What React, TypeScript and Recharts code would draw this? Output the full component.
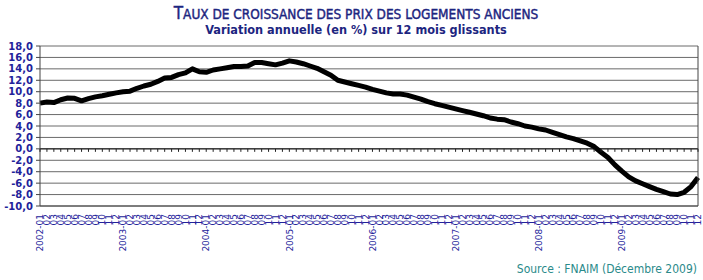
import React from 'react';
import { LineChart, Line, XAxis, YAxis, CartesianGrid, ReferenceLine } from 'recharts';

const years = ['2002', '2003', '2004', '2005', '2006', '2007', '2008', '2009'];
const months = ['01', '02', '03', '04', '05', '06', '07', '08', '09', '10', '11', '12'];

const v2002 = [8.0, 8.2, 8.1, 8.6, 8.9, 8.85, 8.4, 8.8, 9.1, 9.3, 9.55, 9.8];
const v2003 = [10.0, 10.1, 10.6, 11.0, 11.3, 11.8, 12.4, 12.5, 13.0, 13.3, 14.0, 13.5];
const v2004 = [13.4, 13.8, 14.0, 14.2, 14.4, 14.4, 14.5, 15.1, 15.1, 14.9, 14.7, 15.0];
const v2005 = [15.4, 15.2, 14.9, 14.5, 14.1, 13.5, 12.9, 12.0, 11.7, 11.4, 11.1, 10.8];
const v2006 = [10.4, 10.1, 9.8, 9.6, 9.6, 9.4, 9.05, 8.7, 8.25, 7.9, 7.6, 7.3];
const v2007 = [7.0, 6.7, 6.4, 6.1, 5.8, 5.4, 5.2, 5.1, 4.7, 4.4, 4.0, 3.8];
const v2008 = [3.5, 3.3, 2.9, 2.5, 2.1, 1.8, 1.4, 1.0, 0.4, -0.6, -1.5, -2.8];
const v2009 = [-3.9, -4.9, -5.6, -6.1, -6.6, -7.1, -7.5, -7.9, -8.0, -7.6, -6.6, -5.0];

const yearValues = [v2002, v2003, v2004, v2005, v2006, v2007, v2008, v2009];
const yTicks = [-10, -8, -6, -4, -2, 0, 2, 4, 6, 8, 10, 12, 14, 16, 18];

const data = years.flatMap((y, yi) =>
  months.map((m, mi) => ({ key: `${y}-${m}`, value: yearValues[yi][mi], zero: 0 }))
);

const NAVY = '#22229a';

const MonthTick = (props: any) => {
  const { x, y, payload } = props;
  const k: string = payload.value;
  const t = k.endsWith('-01') ? k : k.slice(5);
  return (
    <g transform={`translate(${x},${y})`}>
      <text
        transform="rotate(-90)"
        x={0}
        y={0}
        dy="0.35em"
        textAnchor="end"
        fill={NAVY}
        fontSize={9}
        fontFamily="DejaVu Sans"
      >
        {t}
      </text>
    </g>
  );
};

const ZeroTick = (props: any) => {
  const { cx, cy, index } = props;
  return <line key={`zt-${index}`} x1={cx} x2={cx} y1={cy} y2={cy + 3} stroke="#222" strokeWidth={1} />;
};

export default function App() {
  return (
    <div style={{ position: 'absolute', left: 0, top: 0, width: 703, height: 280, background: '#fff' }}>
      <div
        style={{
          position: 'absolute',
          left: 0,
          width: 712,
          top: 5,
          textAlign: 'center',
          color: '#1c2580',
          fontFamily: 'DejaVu Sans Condensed',
          fontSize: 13.5,
          lineHeight: '16px',
          whiteSpace: 'nowrap',
          WebkitTextStroke: '0.4px #1c2580',
        }}
      >
        <span style={{ fontSize: 17 }}>T</span>AUX DE CROISSANCE DES PRIX DES LOGEMENTS ANCIENS
      </div>
      <div
        style={{
          position: 'absolute',
          left: 0,
          width: 712,
          top: 22,
          textAlign: 'center',
          color: '#1c2580',
          fontFamily: 'DejaVu Sans Condensed',
          fontWeight: 'bold',
          fontSize: 12.6,
          lineHeight: '16px',
          whiteSpace: 'nowrap',
        }}
      >
        Variation annuelle (en %) sur 12 mois glissants
      </div>
      <LineChart width={703} height={280} data={data} margin={{ top: 46, right: 4, bottom: 14, left: 0 }}>
        <CartesianGrid vertical={false} stroke="#6a6a6a" strokeWidth={1} />
        <XAxis
          dataKey="key"
          interval={0}
          tick={<MonthTick />}
          tickLine={false}
          axisLine={{ stroke: '#444' }}
          height={60}
          tickMargin={2}
        />
        <YAxis
          domain={[-10, 18]}
          ticks={yTicks}
          interval={0}
          width={40}
          tickSize={4}
          tickMargin={3}
          tickLine={{ stroke: '#444' }}
          axisLine={{ stroke: '#444' }}
          tickFormatter={(v: number) => v.toFixed(1).replace('.', ',')}
          tick={{ fill: NAVY, fontSize: 10, fontWeight: 'bold', fontFamily: 'DejaVu Sans' }}
        />
        <YAxis
          yAxisId="r"
          orientation="right"
          width={1}
          tick={false}
          tickLine={false}
          axisLine={{ stroke: '#444' }}
        />
        <ReferenceLine y={0} stroke="#111" strokeWidth={1} />
        <Line
          dataKey="zero"
          stroke="none"
          dot={ZeroTick}
          activeDot={false}
          isAnimationActive={false}
          legendType="none"
        />
        <Line
          dataKey="value"
          type="linear"
          stroke="#000"
          strokeWidth={5}
          strokeLinejoin="round"
          dot={false}
          activeDot={false}
          isAnimationActive={false}
        />
      </LineChart>
      <div
        style={{
          position: 'absolute',
          right: 6,
          top: 262,
          color: '#2a8a8a',
          fontFamily: 'DejaVu Sans Condensed',
          fontSize: 12,
          lineHeight: '14px',
          whiteSpace: 'nowrap',
        }}
      >
        Source : FNAIM (Décembre 2009)
      </div>
    </div>
  );
}
